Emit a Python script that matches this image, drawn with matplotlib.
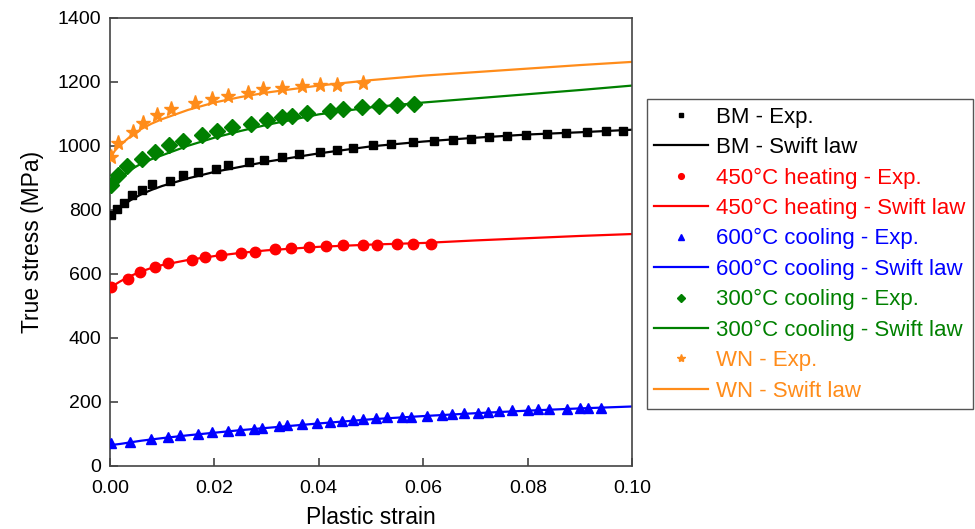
import matplotlib.pyplot as plt

plt.rcParams['font.family'] = ['Liberation Sans', 'DejaVu Sans']

# experimental points (plastic strain, true stress in MPa)
bm_strain = [0.0002, 0.0014, 0.0027, 0.0043, 0.0062, 0.0080, 0.0115, 0.0141, 0.0168, 0.0203,
             0.0227, 0.0266, 0.0296, 0.0329, 0.0363, 0.0402, 0.0435, 0.0466, 0.0504, 0.0539,
             0.0580, 0.0620, 0.0656, 0.0691, 0.0726, 0.0760, 0.0797, 0.0837, 0.0874, 0.0913,
             0.0950, 0.0982]
bm_stress = [783, 801, 822, 846, 862, 880, 891, 908, 917, 928,
             940, 948, 955, 966, 973, 981, 988, 993, 1001, 1005,
             1012, 1016, 1018, 1022, 1028, 1030, 1034, 1037, 1040, 1042,
             1045, 1047]

h450_strain = [0.0002, 0.0035, 0.0058, 0.0087, 0.0112, 0.0157, 0.0182, 0.0212, 0.0251, 0.0278,
               0.0316, 0.0346, 0.0382, 0.0414, 0.0446, 0.0485, 0.0512, 0.0549, 0.0580, 0.0614]
h450_stress = [557, 583, 604, 620, 632, 643, 651, 658, 664, 669,
               677, 680, 682, 687, 689, 691, 691, 692, 693, 693]

c600_strain = [0.0002, 0.0039, 0.0078, 0.0112, 0.0134, 0.0169, 0.0195, 0.0227, 0.0249, 0.0276,
               0.0292, 0.0324, 0.0340, 0.0368, 0.0396, 0.0421, 0.0445, 0.0466, 0.0485, 0.0509,
               0.0531, 0.0559, 0.0576, 0.0607, 0.0635, 0.0654, 0.0678, 0.0704, 0.0724, 0.0745,
               0.0770, 0.0800, 0.0820, 0.0841, 0.0876, 0.0900, 0.0916, 0.0941]
c600_stress = [70, 75, 82, 89, 95, 99, 104, 107, 111, 116,
               119, 124, 127, 130, 132, 136, 140, 142, 145, 148,
               151, 153, 153, 155, 158, 160, 164, 166, 168, 171,
               173, 174, 176, 177, 177, 179, 180, 181]

c300_strain = [0.0002, 0.0016, 0.0032, 0.0061, 0.0087, 0.0114, 0.0140, 0.0177, 0.0205, 0.0233,
               0.0270, 0.0300, 0.0329, 0.0348, 0.0377, 0.0421, 0.0446, 0.0482, 0.0516, 0.0549,
               0.0583]
c300_stress = [877, 908, 937, 960, 981, 1002, 1016, 1032, 1046, 1058,
               1069, 1079, 1090, 1093, 1102, 1109, 1116, 1120, 1124, 1128,
               1130]

wn_strain = [0.0002, 0.0016, 0.0045, 0.0064, 0.0090, 0.0118, 0.0163, 0.0196, 0.0226, 0.0264,
             0.0294, 0.0329, 0.0367, 0.0402, 0.0435, 0.0485]
wn_stress = [966, 1008, 1044, 1072, 1096, 1115, 1133, 1146, 1156, 1166,
             1176, 1181, 1187, 1190, 1191, 1195]

# Swift law curves
fit_strain = [0.0, 0.001, 0.002, 0.004, 0.006, 0.008, 0.010, 0.015, 0.020, 0.025, 0.030,
              0.040, 0.050, 0.060, 0.070, 0.080, 0.090, 0.100]
bm_fit = [776, 795, 808, 830, 848, 862, 874, 898, 918, 934, 950,
          976, 998, 1013, 1025, 1035, 1042, 1050]
h450_fit = [553, 566, 576, 593, 607, 618, 627, 643, 655, 665, 673,
            684, 691, 696, 704, 711, 718, 724]
c600_fit = [63, 66, 68, 73, 78, 82, 86, 95, 103, 111, 118,
            132, 145, 155, 164, 172, 179, 185]
c300_fit = [868, 888, 902, 925, 944, 958, 970, 1000, 1025, 1046, 1065,
            1098, 1120, 1135, 1148, 1161, 1174, 1188]
wn_fit = [960, 985, 1002, 1030, 1052, 1069, 1083, 1112, 1135, 1152, 1166,
          1188, 1205, 1219, 1230, 1241, 1252, 1262]

names = ['BM', '450°C heating', '600°C cooling', '300°C cooling', 'WN']
colors = ['black', '#ff0000', '#0000ff', '#008000', '#ff8c1a']
markers = ['s', 'o', '^', 'D', '*']
msizes = [6, 7.5, 7.5, 8, 11]
exp_x = [bm_strain, h450_strain, c600_strain, c300_strain, wn_strain]
exp_y = [bm_stress, h450_stress, c600_stress, c300_stress, wn_stress]
fits = [bm_fit, h450_fit, c600_fit, c300_fit, wn_fit]

fig = plt.figure(figsize=(9.75, 5.29), dpi=100)
ax = fig.add_axes([0.1126, 0.1197, 0.5359, 0.8468])

handles = []
for name, c, m, ms, xs, ys, fy in zip(names, colors, markers, msizes, exp_x, exp_y, fits):
    h1, = ax.plot(xs, ys, linestyle='none', marker=m, color=c, markersize=ms,
                  label=f'{name} - Exp.', zorder=3)
    h2, = ax.plot(fit_strain, fy, '-', color=c, linewidth=1.6,
                  label=f'{name} - Swift law', zorder=2)
    handles += [h1, h2]

ax.set_xlim(0, 0.10)
ax.set_ylim(0, 1400)
ax.set_xticks([0.0, 0.02, 0.04, 0.06, 0.08, 0.10])
ax.set_xticklabels(['0.00', '0.02', '0.04', '0.06', '0.08', '0.10'])
ax.set_yticks(range(0, 1401, 200))
ax.tick_params(direction='in', length=6, width=1.1, labelsize=14, colors='#333333',
               labelcolor='black', top=False, right=False)
ax.tick_params(axis='x', pad=10)
ax.tick_params(axis='y', pad=6)
for s in ax.spines.values():
    s.set_color('#444444')
    s.set_linewidth(1.2)
ax.set_xlabel('Plastic strain', fontsize=16.5, labelpad=7)
ax.set_ylabel('True stress (MPa)', fontsize=16.5, labelpad=10)

leg = fig.legend(handles=handles, loc='upper left', bbox_to_anchor=(0.6633, 0.8129),
                 borderaxespad=0, fontsize=16, markerscale=0.55, handlelength=2.4,
                 handletextpad=0.35, labelspacing=0.42, borderpad=0.35, fancybox=False,
                 edgecolor='#555555', framealpha=1)
leg.get_frame().set_linewidth(1.0)
for t, h in zip(leg.get_texts(), handles):
    t.set_color(h.get_color())

fig.savefig('out.png', dpi=100)
